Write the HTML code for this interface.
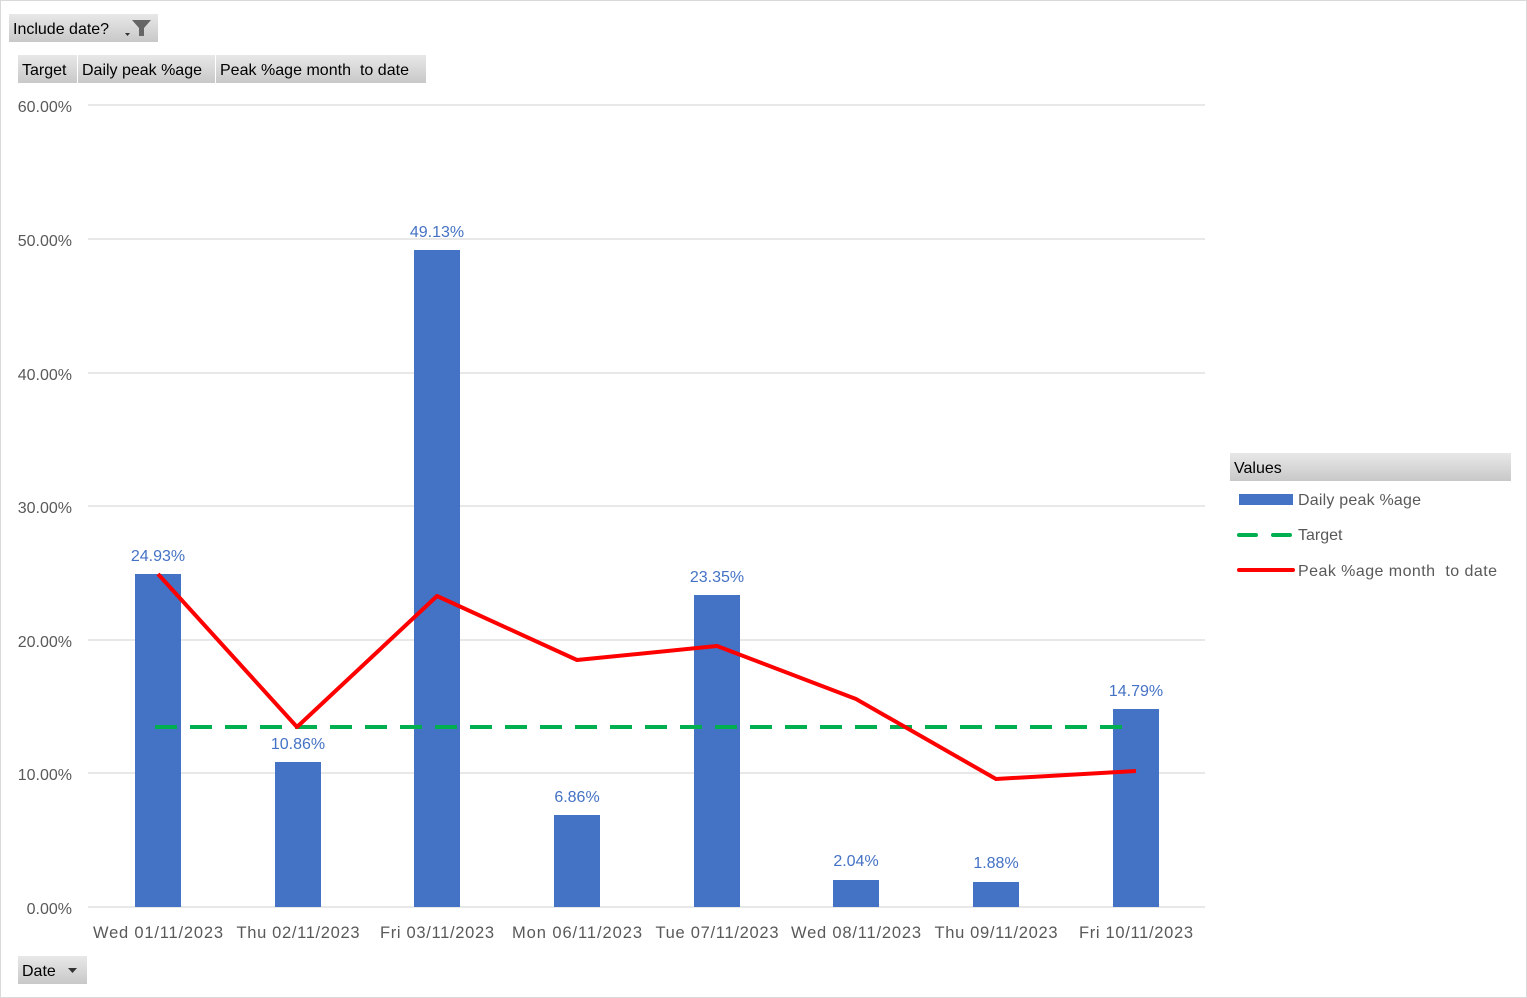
<!DOCTYPE html>
<html><head><meta charset="utf-8"><style>
html,body{margin:0;padding:0;background:#fff;}
svg{display:block;font-family:"Liberation Sans",sans-serif;}
text{white-space:pre;}
</style></head><body>
<svg width="1527" height="998" viewBox="0 0 1527 998" xmlns="http://www.w3.org/2000/svg">
<defs>
<linearGradient id="btn" x1="0" y1="0" x2="0" y2="1"><stop offset="0" stop-color="#e8e8e8"/><stop offset="1" stop-color="#c8c8c8"/></linearGradient>
</defs>
<rect x="0.5" y="0.5" width="1526" height="997" fill="#fff" stroke="#d9d9d9"/>
<rect x="9" y="14" width="149" height="28" fill="url(#btn)"/>
<text x="13" y="34" font-size="16" fill="#000">Include date?</text>
<path d="M125 33 h5 l-2.5 3z" fill="#333"/>
<path d="M132 20 h19 l-7 8 v8 h-5 v-8z" fill="#666"/>
<rect x="18" y="55" width="59" height="28" fill="url(#btn)"/>
<rect x="78" y="55" width="137" height="28" fill="url(#btn)"/>
<rect x="216" y="55" width="210" height="28" fill="url(#btn)"/>
<text x="22" y="75" font-size="16">Target</text>
<text x="82" y="75" font-size="16" textLength="120">Daily peak %age</text>
<text x="220" y="75" font-size="16" textLength="189">Peak %age month  to date</text>
<rect x="18" y="956" width="69" height="28" fill="url(#btn)"/>
<text x="22" y="976" font-size="16">Date</text>
<path d="M68 968 h9 l-4.5 5z" fill="#333"/>
<g stroke="#d9d9d9" stroke-width="1.3">
<line x1="88" y1="105" x2="1205" y2="105"/><line x1="88" y1="239" x2="1205" y2="239"/>
<line x1="88" y1="373" x2="1205" y2="373"/><line x1="88" y1="506" x2="1205" y2="506"/>
<line x1="88" y1="640" x2="1205" y2="640"/><line x1="88" y1="773" x2="1205" y2="773"/>
<line x1="88" y1="907" x2="1205" y2="907"/>
</g>
<g font-size="16" fill="#595959" text-anchor="end">
<text x="72" y="112">60.00%</text><text x="72" y="246">50.00%</text><text x="72" y="380">40.00%</text>
<text x="72" y="513">30.00%</text><text x="72" y="647">20.00%</text><text x="72" y="780">10.00%</text>
<text x="72" y="914">0.00%</text>
</g>
<g fill="#4472c4">
<rect x="135" y="574" width="46" height="333"/>
<rect x="275" y="762" width="46" height="145"/>
<rect x="414" y="250" width="46" height="657"/>
<rect x="554" y="815" width="46" height="92"/>
<rect x="694" y="595" width="46" height="312"/>
<rect x="833" y="880" width="46" height="27"/>
<rect x="973" y="882" width="46" height="25"/>
<rect x="1113" y="709" width="46" height="198"/>
</g>
<g font-size="16" fill="#4472c4" text-anchor="middle">
<text x="158" y="561">24.93%</text><text x="298" y="749">10.86%</text><text x="437" y="237">49.13%</text>
<text x="577" y="802">6.86%</text><text x="717" y="582">23.35%</text><text x="856" y="866">2.04%</text>
<text x="996" y="868">1.88%</text><text x="1136" y="696">14.79%</text>
</g>
<line x1="155" y1="727" x2="1122" y2="727" stroke="#00b050" stroke-width="4" stroke-dasharray="22,13"/>
<polyline points="158,574 297,727 437,596 577,660 717,646 856,699 996,779 1136,771" fill="none" stroke="#ff0000" stroke-width="4" stroke-linejoin="round"/>
<g font-size="16.5" fill="#595959" text-anchor="middle">
<text x="158" y="938" textLength="130">Wed 01/11/2023</text><text x="298" y="938" textLength="123">Thu 02/11/2023</text>
<text x="437" y="938" textLength="114">Fri 03/11/2023</text><text x="577" y="938" textLength="130">Mon 06/11/2023</text>
<text x="717" y="938" textLength="123">Tue 07/11/2023</text><text x="856" y="938" textLength="130">Wed 08/11/2023</text>
<text x="996" y="938" textLength="123">Thu 09/11/2023</text><text x="1136" y="938" textLength="114">Fri 10/11/2023</text>
</g>
<rect x="1230" y="453" width="281" height="28" fill="url(#btn)"/>
<text x="1234" y="473" font-size="16">Values</text>
<rect x="1239" y="494" width="54" height="11" fill="#4472c4"/>
<text x="1298" y="505" font-size="16" fill="#595959" textLength="123">Daily peak %age</text>
<line x1="1239" y1="535" x2="1293" y2="535" stroke="#00b050" stroke-width="4" stroke-dasharray="17,17" stroke-linecap="round"/>
<text x="1298" y="540" font-size="16" fill="#595959">Target</text>
<line x1="1239" y1="570" x2="1293" y2="570" stroke="#ff0000" stroke-width="4" stroke-linecap="round"/>
<text x="1298" y="576" font-size="16" fill="#595959" textLength="199">Peak %age month  to date</text>
</svg>
</body></html>
